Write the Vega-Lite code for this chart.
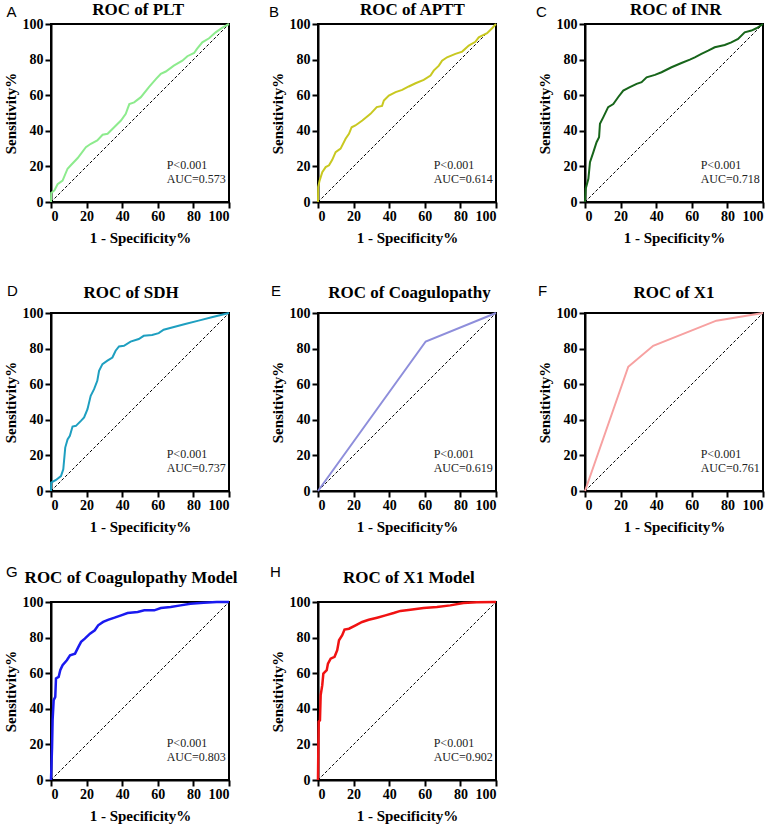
{
  "$schema": "https://vega.github.io/schema/vega-lite/v6.json",
  "background": "white",
  "padding": {"left": 2, "top": 0, "right": 5, "bottom": 0},
  "columns": 3,
  "bounds": "flush",
  "align": "all",
  "spacing": {"row": 111, "column": 89},
  "config": {
    "font": "Times New Roman, Liberation Serif, DejaVu Serif, serif",
    "view": {"stroke": "black", "strokeWidth": 2},
    "axis": {
      "grid": false,
      "values": [0, 20, 40, 60, 80, 100],
      "domainColor": "black", "domainWidth": 2,
      "tickColor": "black", "tickWidth": 2, "tickSize": 6,
      "labelFontWeight": "bold", "labelFontSize": 14, "labelColor": "black",
      "titleFontWeight": "bold", "titleFontSize": 15, "titleColor": "black"
    },
    "axisX": {"labelPadding": 1, "titlePadding": 7},
    "axisY": {"labelPadding": 2, "titlePadding": 4},
    "line": {"strokeWidth": 2},
    "text": {"color": "black"}
  },
  "datasets": {
    "diag": [{"x": 0, "y": 0}, {"x": 100, "y": 100}],
    "A": [{"x":0,"y":0},{"x":0.1,"y":5},{"x":1.9,"y":6.5},{"x":3.7,"y":10},{"x":6.5,"y":12},{"x":9.3,"y":18.7},{"x":11,"y":20.5},{"x":15,"y":24.7},{"x":19.6,"y":30.8},{"x":22.4,"y":32.7},{"x":26,"y":34.6},{"x":29,"y":37.8},{"x":31.8,"y":38.3},{"x":35.5,"y":42},{"x":39.3,"y":45.8},{"x":42,"y":49.5},{"x":43,"y":52.3},{"x":44,"y":55},{"x":46.7,"y":56},{"x":50.5,"y":58.9},{"x":55,"y":64.5},{"x":58.9,"y":69},{"x":61.7,"y":72},{"x":64.5,"y":73.3},{"x":69,"y":76.6},{"x":73.8,"y":79.4},{"x":76.6,"y":81.9},{"x":80.4,"y":83.7},{"x":82,"y":86},{"x":85,"y":89.7},{"x":88.8,"y":92},{"x":92.5,"y":95.3},{"x":96.3,"y":98},{"x":100,"y":100}],
    "B": [{"x":0,"y":0},{"x":0.1,"y":8.4},{"x":0.9,"y":12},{"x":2.4,"y":16.8},{"x":4.3,"y":19.6},{"x":6.2,"y":20.6},{"x":8,"y":23.7},{"x":9.9,"y":28},{"x":12.7,"y":30},{"x":15.5,"y":35.5},{"x":17.4,"y":38.3},{"x":18.9,"y":42},{"x":21,"y":43},{"x":24.9,"y":45.8},{"x":29.5,"y":49.5},{"x":33,"y":53.3},{"x":36,"y":54},{"x":37,"y":57},{"x":39.8,"y":59.8},{"x":43.6,"y":61.7},{"x":47.3,"y":63},{"x":51,"y":64.9},{"x":54.8,"y":66.7},{"x":59.4,"y":68.6},{"x":63.2,"y":71},{"x":65,"y":73.8},{"x":67.9,"y":76.6},{"x":69.7,"y":79.4},{"x":72.5,"y":81.3},{"x":77.2,"y":83.2},{"x":81,"y":84.5},{"x":84.7,"y":87.9},{"x":88.4,"y":90},{"x":90.3,"y":92.5},{"x":95,"y":94.8},{"x":97.8,"y":97.6},{"x":100,"y":100}],
    "C": [{"x":0,"y":0},{"x":0.4,"y":7.5},{"x":1.9,"y":13},{"x":2.8,"y":22.4},{"x":4.7,"y":28},{"x":6.5,"y":33.6},{"x":7.9,"y":36.4},{"x":8.4,"y":43.9},{"x":10.3,"y":47.7},{"x":13,"y":53.3},{"x":15.9,"y":55},{"x":18.7,"y":59},{"x":21.5,"y":62.6},{"x":25.2,"y":64.5},{"x":29,"y":66.4},{"x":31.8,"y":67.3},{"x":34.6,"y":70},{"x":39.3,"y":71.4},{"x":43,"y":72.9},{"x":48.6,"y":75.7},{"x":54.2,"y":78.1},{"x":58.9,"y":80},{"x":61.7,"y":81.3},{"x":65.4,"y":83.2},{"x":69.2,"y":85},{"x":72.9,"y":86.9},{"x":78.5,"y":88.2},{"x":82.2,"y":89.7},{"x":86,"y":91.6},{"x":89.7,"y":95.3},{"x":93.5,"y":96.3},{"x":96.3,"y":97.6},{"x":100,"y":100}],
    "D": [{"x":0,"y":0},{"x":0.1,"y":4.7},{"x":2.8,"y":6.2},{"x":5.6,"y":8.4},{"x":6.9,"y":12.2},{"x":8,"y":24.4},{"x":9.3,"y":29},{"x":10.6,"y":31},{"x":12.1,"y":36.2},{"x":14,"y":36.6},{"x":16.8,"y":39.4},{"x":18.6,"y":41.3},{"x":20.5,"y":46},{"x":22.3,"y":53.5},{"x":24.2,"y":57.2},{"x":26,"y":61.9},{"x":27,"y":67.5},{"x":28.9,"y":71.3},{"x":31.7,"y":73.2},{"x":34.5,"y":75},{"x":36.3,"y":78.8},{"x":38.2,"y":81.2},{"x":41,"y":81.6},{"x":44.7,"y":83.9},{"x":49.3,"y":85.4},{"x":52.1,"y":87.2},{"x":56.8,"y":87.6},{"x":60.5,"y":88.7},{"x":63.3,"y":90.6},{"x":68,"y":91.9},{"x":75.4,"y":93.8},{"x":82.9,"y":95.7},{"x":90.3,"y":97.6},{"x":100,"y":100}],
    "E": [{"x":0,"y":0},{"x":60.5,"y":84},{"x":100,"y":100}],
    "F": [{"x":0,"y":0},{"x":24.3,"y":69.8},{"x":38.3,"y":81.6},{"x":73.8,"y":95.7},{"x":100,"y":100}],
    "G": [{"x":0,"y":0},{"x":0.6,"y":18.7},{"x":0.9,"y":33.6},{"x":1.5,"y":44.9},{"x":2.4,"y":46.7},{"x":2.8,"y":57},{"x":4.3,"y":57.9},{"x":5.2,"y":61.7},{"x":6.5,"y":64.5},{"x":8.9,"y":67.3},{"x":10.7,"y":70},{"x":13.5,"y":71},{"x":15.4,"y":74.8},{"x":16.9,"y":77.6},{"x":19,"y":79.4},{"x":21.9,"y":82.2},{"x":24.6,"y":84.1},{"x":26.5,"y":86.9},{"x":29.3,"y":88.8},{"x":32,"y":90},{"x":35.7,"y":91.2},{"x":39.4,"y":92.5},{"x":43,"y":93.8},{"x":48.7,"y":94.4},{"x":52.4,"y":95.3},{"x":58,"y":95.3},{"x":61.7,"y":96.6},{"x":67.2,"y":97.2},{"x":72.8,"y":98.1},{"x":78.3,"y":99},{"x":85.7,"y":99.6},{"x":93.1,"y":100},{"x":100,"y":100}],
    "H": [{"x":0,"y":0},{"x":0.2,"y":18.7},{"x":0.4,"y":32.7},{"x":1.1,"y":33.6},{"x":1.5,"y":47.7},{"x":2.4,"y":53.3},{"x":3,"y":59.8},{"x":4.9,"y":61.7},{"x":5.6,"y":65.4},{"x":7.1,"y":68.2},{"x":9.3,"y":69.2},{"x":10.8,"y":72.9},{"x":11.8,"y":78.5},{"x":13.6,"y":81.3},{"x":14.9,"y":84.5},{"x":17.4,"y":85},{"x":21.1,"y":86.9},{"x":24.8,"y":88.8},{"x":28.5,"y":90},{"x":33.2,"y":91.2},{"x":37.9,"y":92.5},{"x":42.5,"y":93.8},{"x":46.3,"y":95},{"x":51.9,"y":95.7},{"x":59.3,"y":96.6},{"x":66.8,"y":97.2},{"x":74.3,"y":98.1},{"x":81.7,"y":99.4},{"x":89.2,"y":99.8},{"x":100,"y":100}]
  },
  "concat": [
    {
      "width": 178, "height": 178,
      "encoding": {
        "x": {"field": "x", "type": "quantitative", "scale": {"domain": [0, 100], "nice": false}, "title": "1 - Specificity%"},
        "y": {"field": "y", "type": "quantitative", "scale": {"domain": [0, 100], "nice": false}, "title": "Sensitivity%"}
      },
      "layer": [
        {"data": {"name": "diag"}, "mark": {"type": "line", "color": "black", "strokeWidth": 1, "strokeDash": [3, 2]}},
        {"data": {"name": "A"}, "mark": {"type": "line", "color": "#8DEB8D"}},
        {"data": {"values": [{"x": 65, "y": 21, "t": "P<0.001"}, {"x": 65, "y": 13, "t": "AUC=0.573"}]}, "mark": {"type": "text", "align": "left", "baseline": "middle", "fontSize": 12, "color": "#222222"}, "encoding": {"text": {"field": "t"}}},
        {"data": {"values": [{"x": -25, "y": 103.9, "t": "A"}]}, "mark": {"type": "text", "align": "left", "baseline": "alphabetic", "font": "Liberation Sans, Arial, sans-serif", "fontSize": 15}, "encoding": {"text": {"field": "t"}}},
        {"data": {"values": [{"x": 49, "y": 105, "t": "ROC of PLT"}]}, "mark": {"type": "text", "align": "center", "baseline": "alphabetic", "fontSize": 17, "fontWeight": "bold"}, "encoding": {"text": {"field": "t"}}}
      ]
    },
    {
      "width": 178, "height": 178,
      "encoding": {
        "x": {"field": "x", "type": "quantitative", "scale": {"domain": [0, 100], "nice": false}, "title": "1 - Specificity%"},
        "y": {"field": "y", "type": "quantitative", "scale": {"domain": [0, 100], "nice": false}, "title": "Sensitivity%"}
      },
      "layer": [
        {"data": {"name": "diag"}, "mark": {"type": "line", "color": "black", "strokeWidth": 1, "strokeDash": [3, 2]}},
        {"data": {"name": "B"}, "mark": {"type": "line", "color": "#C8C820"}},
        {"data": {"values": [{"x": 65, "y": 21, "t": "P<0.001"}, {"x": 65, "y": 13, "t": "AUC=0.614"}]}, "mark": {"type": "text", "align": "left", "baseline": "middle", "fontSize": 12, "color": "#222222"}, "encoding": {"text": {"field": "t"}}},
        {"data": {"values": [{"x": -27.5, "y": 103.9, "t": "B"}]}, "mark": {"type": "text", "align": "left", "baseline": "alphabetic", "font": "Liberation Sans, Arial, sans-serif", "fontSize": 15}, "encoding": {"text": {"field": "t"}}},
        {"data": {"values": [{"x": 53, "y": 105, "t": "ROC of APTT"}]}, "mark": {"type": "text", "align": "center", "baseline": "alphabetic", "fontSize": 17, "fontWeight": "bold"}, "encoding": {"text": {"field": "t"}}}
      ]
    },
    {
      "width": 178, "height": 178,
      "encoding": {
        "x": {"field": "x", "type": "quantitative", "scale": {"domain": [0, 100], "nice": false}, "title": "1 - Specificity%"},
        "y": {"field": "y", "type": "quantitative", "scale": {"domain": [0, 100], "nice": false}, "title": "Sensitivity%"}
      },
      "layer": [
        {"data": {"name": "diag"}, "mark": {"type": "line", "color": "black", "strokeWidth": 1, "strokeDash": [3, 2]}},
        {"data": {"name": "C"}, "mark": {"type": "line", "color": "#17651A"}},
        {"data": {"values": [{"x": 65, "y": 21, "t": "P<0.001"}, {"x": 65, "y": 13, "t": "AUC=0.718"}]}, "mark": {"type": "text", "align": "left", "baseline": "middle", "fontSize": 12, "color": "#222222"}, "encoding": {"text": {"field": "t"}}},
        {"data": {"values": [{"x": -27.5, "y": 103.9, "t": "C"}]}, "mark": {"type": "text", "align": "left", "baseline": "alphabetic", "font": "Liberation Sans, Arial, sans-serif", "fontSize": 15}, "encoding": {"text": {"field": "t"}}},
        {"data": {"values": [{"x": 51, "y": 105, "t": "ROC of INR"}]}, "mark": {"type": "text", "align": "center", "baseline": "alphabetic", "fontSize": 17, "fontWeight": "bold"}, "encoding": {"text": {"field": "t"}}}
      ]
    },
    {
      "width": 178, "height": 178,
      "encoding": {
        "x": {"field": "x", "type": "quantitative", "scale": {"domain": [0, 100], "nice": false}, "title": "1 - Specificity%"},
        "y": {"field": "y", "type": "quantitative", "scale": {"domain": [0, 100], "nice": false}, "title": "Sensitivity%"}
      },
      "layer": [
        {"data": {"name": "diag"}, "mark": {"type": "line", "color": "black", "strokeWidth": 1, "strokeDash": [3, 2]}},
        {"data": {"name": "D"}, "mark": {"type": "line", "color": "#1E9FC0"}},
        {"data": {"values": [{"x": 65, "y": 21, "t": "P<0.001"}, {"x": 65, "y": 13, "t": "AUC=0.737"}]}, "mark": {"type": "text", "align": "left", "baseline": "middle", "fontSize": 12, "color": "#222222"}, "encoding": {"text": {"field": "t"}}},
        {"data": {"values": [{"x": -24.7, "y": 109.8, "t": "D"}]}, "mark": {"type": "text", "align": "left", "baseline": "alphabetic", "font": "Liberation Sans, Arial, sans-serif", "fontSize": 15}, "encoding": {"text": {"field": "t"}}},
        {"data": {"values": [{"x": 45, "y": 108.4, "t": "ROC of SDH"}]}, "mark": {"type": "text", "align": "center", "baseline": "alphabetic", "fontSize": 17, "fontWeight": "bold"}, "encoding": {"text": {"field": "t"}}}
      ]
    },
    {
      "width": 178, "height": 178,
      "encoding": {
        "x": {"field": "x", "type": "quantitative", "scale": {"domain": [0, 100], "nice": false}, "title": "1 - Specificity%"},
        "y": {"field": "y", "type": "quantitative", "scale": {"domain": [0, 100], "nice": false}, "title": "Sensitivity%"}
      },
      "layer": [
        {"data": {"name": "diag"}, "mark": {"type": "line", "color": "black", "strokeWidth": 1, "strokeDash": [3, 2]}},
        {"data": {"name": "E"}, "mark": {"type": "line", "color": "#8E8EDB"}},
        {"data": {"values": [{"x": 65, "y": 21, "t": "P<0.001"}, {"x": 65, "y": 13, "t": "AUC=0.619"}]}, "mark": {"type": "text", "align": "left", "baseline": "middle", "fontSize": 12, "color": "#222222"}, "encoding": {"text": {"field": "t"}}},
        {"data": {"values": [{"x": -26.4, "y": 109.8, "t": "E"}]}, "mark": {"type": "text", "align": "left", "baseline": "alphabetic", "font": "Liberation Sans, Arial, sans-serif", "fontSize": 15}, "encoding": {"text": {"field": "t"}}},
        {"data": {"values": [{"x": 51.4, "y": 108.4, "t": "ROC of Coagulopathy"}]}, "mark": {"type": "text", "align": "center", "baseline": "alphabetic", "fontSize": 17, "fontWeight": "bold"}, "encoding": {"text": {"field": "t"}}}
      ]
    },
    {
      "width": 178, "height": 178,
      "encoding": {
        "x": {"field": "x", "type": "quantitative", "scale": {"domain": [0, 100], "nice": false}, "title": "1 - Specificity%"},
        "y": {"field": "y", "type": "quantitative", "scale": {"domain": [0, 100], "nice": false}, "title": "Sensitivity%"}
      },
      "layer": [
        {"data": {"name": "diag"}, "mark": {"type": "line", "color": "black", "strokeWidth": 1, "strokeDash": [3, 2]}},
        {"data": {"name": "F"}, "mark": {"type": "line", "color": "#F7A1A1"}},
        {"data": {"values": [{"x": 65, "y": 21, "t": "P<0.001"}, {"x": 65, "y": 13, "t": "AUC=0.761"}]}, "mark": {"type": "text", "align": "left", "baseline": "middle", "fontSize": 12, "color": "#222222"}, "encoding": {"text": {"field": "t"}}},
        {"data": {"values": [{"x": -26.4, "y": 109.8, "t": "F"}]}, "mark": {"type": "text", "align": "left", "baseline": "alphabetic", "font": "Liberation Sans, Arial, sans-serif", "fontSize": 15}, "encoding": {"text": {"field": "t"}}},
        {"data": {"values": [{"x": 50, "y": 108.4, "t": "ROC of X1"}]}, "mark": {"type": "text", "align": "center", "baseline": "alphabetic", "fontSize": 17, "fontWeight": "bold"}, "encoding": {"text": {"field": "t"}}}
      ]
    },
    {
      "width": 178, "height": 178,
      "encoding": {
        "x": {"field": "x", "type": "quantitative", "scale": {"domain": [0, 100], "nice": false}, "title": "1 - Specificity%"},
        "y": {"field": "y", "type": "quantitative", "scale": {"domain": [0, 100], "nice": false}, "title": "Sensitivity%"}
      },
      "layer": [
        {"data": {"name": "diag"}, "mark": {"type": "line", "color": "black", "strokeWidth": 1, "strokeDash": [3, 2]}},
        {"data": {"name": "G"}, "mark": {"type": "line", "color": "#1A1AF0", "strokeWidth": 2.5}},
        {"data": {"values": [{"x": 65, "y": 21, "t": "P<0.001"}, {"x": 65, "y": 13, "t": "AUC=0.803"}]}, "mark": {"type": "text", "align": "left", "baseline": "middle", "fontSize": 12, "color": "#222222"}, "encoding": {"text": {"field": "t"}}},
        {"data": {"values": [{"x": -25.3, "y": 114, "t": "G"}]}, "mark": {"type": "text", "align": "left", "baseline": "alphabetic", "font": "Liberation Sans, Arial, sans-serif", "fontSize": 15}, "encoding": {"text": {"field": "t"}}},
        {"data": {"values": [{"x": 45, "y": 110.7, "t": "ROC of Coagulopathy Model"}]}, "mark": {"type": "text", "align": "center", "baseline": "alphabetic", "fontSize": 17, "fontWeight": "bold"}, "encoding": {"text": {"field": "t"}}}
      ]
    },
    {
      "width": 178, "height": 178,
      "encoding": {
        "x": {"field": "x", "type": "quantitative", "scale": {"domain": [0, 100], "nice": false}, "title": "1 - Specificity%"},
        "y": {"field": "y", "type": "quantitative", "scale": {"domain": [0, 100], "nice": false}, "title": "Sensitivity%"}
      },
      "layer": [
        {"data": {"name": "diag"}, "mark": {"type": "line", "color": "black", "strokeWidth": 1, "strokeDash": [3, 2]}},
        {"data": {"name": "H"}, "mark": {"type": "line", "color": "#F01212", "strokeWidth": 2.5}},
        {"data": {"values": [{"x": 65, "y": 21, "t": "P<0.001"}, {"x": 65, "y": 13, "t": "AUC=0.902"}]}, "mark": {"type": "text", "align": "left", "baseline": "middle", "fontSize": 12, "color": "#222222"}, "encoding": {"text": {"field": "t"}}},
        {"data": {"values": [{"x": -27, "y": 114, "t": "H"}]}, "mark": {"type": "text", "align": "left", "baseline": "alphabetic", "font": "Liberation Sans, Arial, sans-serif", "fontSize": 15}, "encoding": {"text": {"field": "t"}}},
        {"data": {"values": [{"x": 51, "y": 110.7, "t": "ROC of X1 Model"}]}, "mark": {"type": "text", "align": "center", "baseline": "alphabetic", "fontSize": 17, "fontWeight": "bold"}, "encoding": {"text": {"field": "t"}}}
      ]
    }
  ]
}
